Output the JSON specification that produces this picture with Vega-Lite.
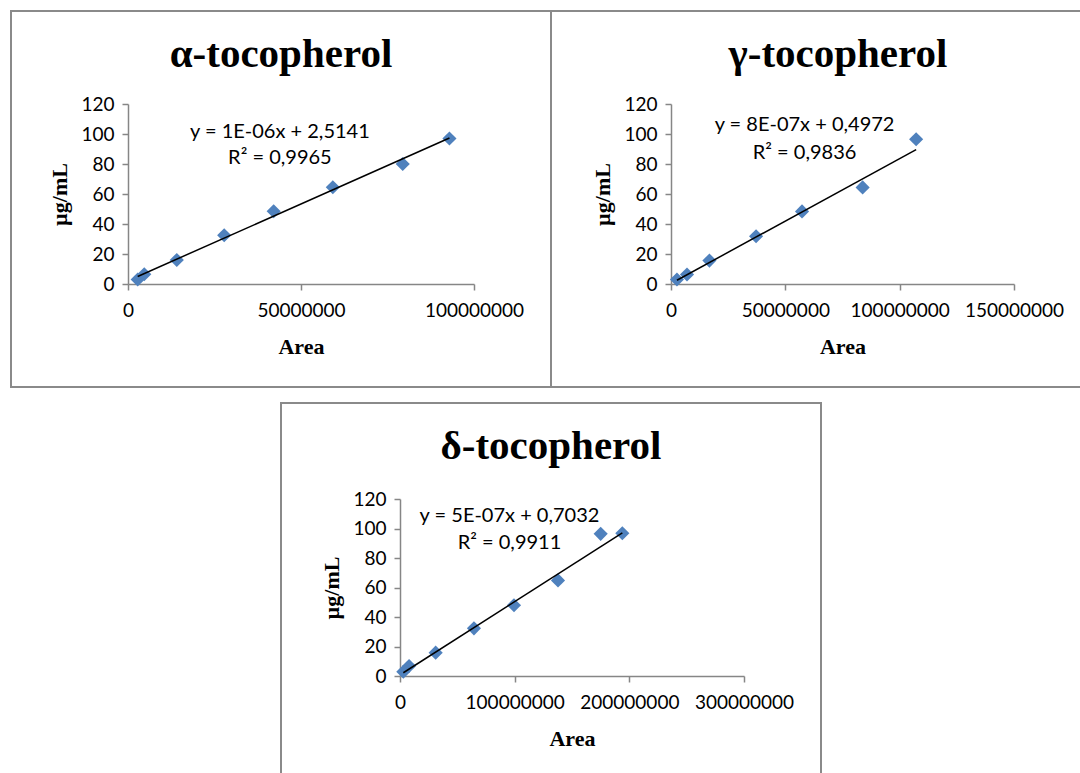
{
  "$schema": "https://vega.github.io/schema/vega-lite/v6.json",
  "background": "white",
  "padding": {"left": 10, "top": 10, "right": 0, "bottom": 0},
  "config": {
    "view": {"stroke": "#8a8a8a", "strokeWidth": 2},
    "axis": {
      "domainColor": "#868686",
      "domainWidth": 1.5,
      "tickColor": "#868686",
      "tickWidth": 1.5,
      "tickSize": 6,
      "grid": false,
      "labelFont": "Lato",
      "labelFontSize": 19,
      "labelColor": "#000000",
      "labelFlush": false,
      "labelOverlap": false,
      "format": "d",
      "titleFont": "Liberation Serif",
      "titleFontSize": 22,
      "titleFontWeight": "bold",
      "titleColor": "#000000"
    },
    "axisX": {"labelPadding": 11, "titlePadding": 16},
    "axisY": {"labelPadding": 8, "titlePadding": 9},
    "title": {
      "font": "Liberation Serif",
      "fontSize": 41,
      "fontWeight": "bold",
      "color": "#000000",
      "anchor": "middle",
      "frame": "group"
    }
  },
  "datasets": {
    "alpha_pts": [
      {"area": 2800000, "conc": 3},
      {"area": 4700000, "conc": 6.5},
      {"area": 14100000, "conc": 16},
      {"area": 27800000, "conc": 32.5},
      {"area": 42100000, "conc": 48.5},
      {"area": 59200000, "conc": 64.5},
      {"area": 79400000, "conc": 80},
      {"area": 92900000, "conc": 97}
    ],
    "alpha_fit": [
      {"area": 2800000, "conc": 5.0},
      {"area": 92900000, "conc": 97.3}
    ],
    "alpha_eq": [
      {"area": 43900000, "conc": 101.3, "label": "y = 1E-06x + 2,5141"},
      {"area": 43900000, "conc": 84.0, "label": "R² = 0,9965"}
    ],
    "gamma_pts": [
      {"area": 2600000, "conc": 3},
      {"area": 7000000, "conc": 6.3},
      {"area": 16800000, "conc": 15.6},
      {"area": 37200000, "conc": 31.8},
      {"area": 57300000, "conc": 48.4},
      {"area": 83800000, "conc": 64.4},
      {"area": 107200000, "conc": 96.5}
    ],
    "gamma_fit": [
      {"area": 2600000, "conc": 2.5},
      {"area": 107200000, "conc": 89.6}
    ],
    "gamma_eq": [
      {"area": 58400000, "conc": 106.0, "label": "y = 8E-07x + 0,4972"},
      {"area": 58400000, "conc": 87.6, "label": "R² = 0,9836"}
    ],
    "delta_pts": [
      {"area": 2900000, "conc": 2.9},
      {"area": 7900000, "conc": 6.8},
      {"area": 31100000, "conc": 15.8},
      {"area": 64500000, "conc": 32.3},
      {"area": 99400000, "conc": 48},
      {"area": 137800000, "conc": 64.8},
      {"area": 175000000, "conc": 96.4},
      {"area": 193900000, "conc": 96.8}
    ],
    "delta_fit": [
      {"area": 2900000, "conc": 2.2},
      {"area": 193900000, "conc": 97}
    ],
    "delta_eq": [
      {"area": 95500000, "conc": 108.3, "label": "y = 5E-07x + 0,7032"},
      {"area": 95500000, "conc": 90.2, "label": "R² = 0,9911"}
    ]
  },
  "vconcat": [
    {
      "hconcat": [
        {
          "width": 540,
          "height": 376,
          "title": {"text": "α-tocopherol", "offset": -65},
          "layer": [
            {
              "data": {"name": "alpha_pts"},
              "mark": {"type": "point", "shape": "diamond", "filled": true, "size": 200, "color": "#4F81BD", "opacity": 1},
              "encoding": {
                "x": {"field": "area", "type": "quantitative",
                      "scale": {"domain": [0, 100000000], "range": [117, 463], "nice": false, "zero": false},
                      "axis": {"values": [0, 50000000, 100000000], "title": "Area", "offset": -103}},
                "y": {"field": "conc", "type": "quantitative",
                      "scale": {"domain": [0, 120], "range": [273, 93], "nice": false, "zero": false},
                      "axis": {"values": [0, 20, 40, 60, 80, 100, 120], "title": "µg/mL", "offset": -117}}
              }
            },
            {
              "data": {"name": "alpha_fit"},
              "mark": {"type": "line", "color": "#000000", "strokeWidth": 1.5},
              "encoding": {
                "x": {"field": "area", "type": "quantitative"},
                "y": {"field": "conc", "type": "quantitative"}
              }
            },
            {
              "data": {"name": "alpha_eq"},
              "mark": {"type": "text", "font": "Lato", "fontSize": 20, "color": "#000000", "align": "center", "baseline": "middle"},
              "encoding": {
                "x": {"field": "area", "type": "quantitative"},
                "y": {"field": "conc", "type": "quantitative"},
                "text": {"field": "label"}
              }
            }
          ]
        },
        {
          "width": 540,
          "height": 376,
          "title": {"text": "γ-tocopherol", "offset": -65, "dx": 17},
          "layer": [
            {
              "data": {"name": "gamma_pts"},
              "mark": {"type": "point", "shape": "diamond", "filled": true, "size": 200, "color": "#4F81BD", "opacity": 1},
              "encoding": {
                "x": {"field": "area", "type": "quantitative",
                      "scale": {"domain": [0, 150000000], "range": [120, 463], "nice": false, "zero": false},
                      "axis": {"values": [0, 50000000, 100000000, 150000000], "title": "Area", "offset": -103}},
                "y": {"field": "conc", "type": "quantitative",
                      "scale": {"domain": [0, 120], "range": [273, 93], "nice": false, "zero": false},
                      "axis": {"values": [0, 20, 40, 60, 80, 100, 120], "title": "µg/mL", "offset": -120}}
              }
            },
            {
              "data": {"name": "gamma_fit"},
              "mark": {"type": "line", "color": "#000000", "strokeWidth": 1.5},
              "encoding": {
                "x": {"field": "area", "type": "quantitative"},
                "y": {"field": "conc", "type": "quantitative"}
              }
            },
            {
              "data": {"name": "gamma_eq"},
              "mark": {"type": "text", "font": "Lato", "fontSize": 20, "color": "#000000", "align": "center", "baseline": "middle"},
              "encoding": {
                "x": {"field": "area", "type": "quantitative"},
                "y": {"field": "conc", "type": "quantitative"},
                "text": {"field": "label"}
              }
            }
          ]
        }
      ],
      "spacing": 0,
      "bounds": "flush"
    },
    {
      "width": 540,
      "height": 380,
      "title": {"text": "δ-tocopherol", "offset": -65},
      "layer": [
        {
          "data": {"name": "delta_pts"},
          "mark": {"type": "point", "shape": "diamond", "filled": true, "size": 200, "color": "#4F81BD", "opacity": 1},
          "encoding": {
            "x": {"field": "area", "type": "quantitative",
                  "scale": {"domain": [0, 300000000], "range": [119, 463], "nice": false, "zero": false},
                  "axis": {"values": [0, 100000000, 200000000, 300000000], "title": "Area", "offset": -107}},
            "y": {"field": "conc", "type": "quantitative",
                  "scale": {"domain": [0, 120], "range": [273, 96], "nice": false, "zero": false},
                  "axis": {"values": [0, 20, 40, 60, 80, 100, 120], "title": "µg/mL", "offset": -119}}
          }
        },
        {
          "data": {"name": "delta_fit"},
          "mark": {"type": "line", "color": "#000000", "strokeWidth": 1.5},
          "encoding": {
            "x": {"field": "area", "type": "quantitative"},
            "y": {"field": "conc", "type": "quantitative"}
          }
        },
        {
          "data": {"name": "delta_eq"},
          "mark": {"type": "text", "font": "Lato", "fontSize": 20, "color": "#000000", "align": "center", "baseline": "middle"},
          "encoding": {
            "x": {"field": "area", "type": "quantitative"},
            "y": {"field": "conc", "type": "quantitative"},
            "text": {"field": "label"}
          }
        }
      ]
    }
  ],
  "spacing": 14,
  "bounds": "full",
  "center": true
}
